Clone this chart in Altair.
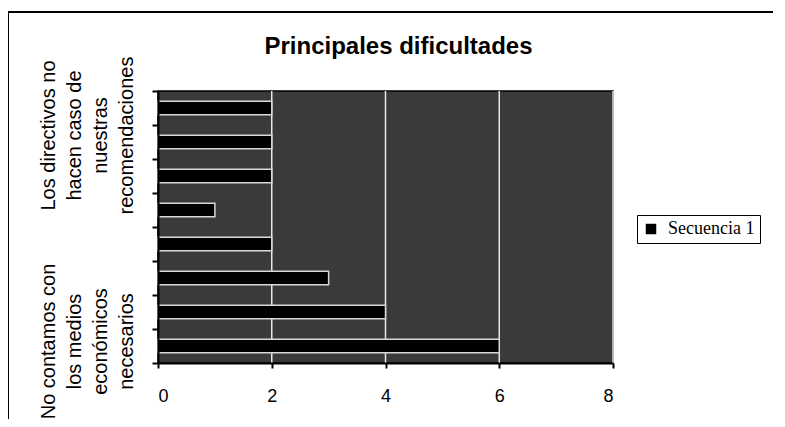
import json
import altair as alt
import pandas as pd

# ---- data ----
indices = [1, 2, 3, 4, 5, 6, 7, 8]          # category positions, 1 = bottom
valores = [6, 4, 3, 2, 1, 2, 2, 2]          # bar lengths
etiquetas = {
    1: ["No contamos con", "los medios", "económicos", "necesarios"],
    8: ["Los directivos no", "hacen caso de", "nuestras", "recomendaciones"],
}
serie = "Secuencia 1"
titulo = "Principales dificultades"
x_ticks = [0, 2, 4, 6, 8]
grid_vals = [2, 4, 6, 8]

df = pd.DataFrame({"idx": indices, "valor": valores, "serie": [serie] * len(indices)})
grid_df = pd.DataFrame({"g": grid_vals})
frame_df = pd.DataFrame({"k": [0]})

label_expr = (
    "datum.value == 1 ? " + json.dumps(etiquetas[1], ensure_ascii=False)
    + " : datum.value == 8 ? " + json.dumps(etiquetas[8], ensure_ascii=False)
    + " : ''"
)

x_scale = alt.Scale(domain=[0, 8], nice=False)
y_scale = alt.Scale(paddingInner=0, paddingOuter=0)

x_axis = alt.Axis(values=x_ticks, grid=False, title=None, zindex=1,
                  domainColor="black", domainWidth=2, tickColor="black",
                  tickWidth=2, tickSize=5, labelPadding=19,
                  labelFont="Liberation Sans", labelFontSize=18, labelColor="black")
y_axis = alt.Axis(title=None, grid=False, zindex=1, tickBand="extent",
                  domainColor="black", domainWidth=2, tickColor="black",
                  tickWidth=2, tickSize=6, labelPadding=94,
                  labelExpr=label_expr, labelAngle=270, labelAlign="center",
                  labelBaseline="bottom", labelLineHeight=26,
                  labelFont="Liberation Sans", labelFontSize=20, labelColor="black",
                  labelOffset={"condition": {"test": "datum.value == 8", "value": 27}, "value": -5},
                  labelLimit=0, labelOverlap=False)

grid = alt.Chart(grid_df).mark_rule(color="#e6e6e6", strokeWidth=1.5).encode(
    x=alt.X("g:Q", scale=x_scale, axis=x_axis)
)

bars = alt.Chart(df).mark_bar(
    height=alt.RelativeBandSize(0.4), stroke="#d8d8d8", strokeWidth=1.5
).encode(
    x=alt.X("valor:Q", scale=x_scale, axis=x_axis),
    y=alt.Y("idx:O", sort="descending", scale=y_scale, axis=y_axis),
    color=alt.Color("serie:N", scale=alt.Scale(range=["#000000"]),
                    legend=alt.Legend(title=None, orient="none", legendX=479, legendY=124,
                                      strokeColor="black", fillColor="white", padding=5,
                                      symbolType="square", symbolSize=110,
                                      symbolStrokeWidth=0, symbolFillColor="black",
                                      labelFont="Liberation Serif", labelFontSize=18,
                                      labelColor="black", labelOffset=8)),
)

top_line = alt.Chart(frame_df).mark_rule(color="black", strokeWidth=2).encode(
    x=alt.value(-150), x2=alt.value(640), y=alt.value(-79)
)
left_line = alt.Chart(frame_df).mark_rule(color="black", strokeWidth=2).encode(
    x=alt.value(-150), y=alt.value(-79), y2=alt.value(340)
)

chart = alt.layer(grid, bars, top_line, left_line).properties(
    width=455, height=272,
    autosize="none",
    padding={"left": 150, "top": 83, "right": 160, "bottom": 56},
    title=alt.TitleParams(titulo, font="Liberation Sans", fontSize=24, fontWeight="bold",
                          color="black", anchor="middle", frame="group", dx=13,
                          baseline="alphabetic", offset=-67),
).configure_view(fill="#3a3a3a", stroke="black", strokeWidth=1.5)

chart.save("out.html", embed_options={"renderer": "svg", "actions": False})
